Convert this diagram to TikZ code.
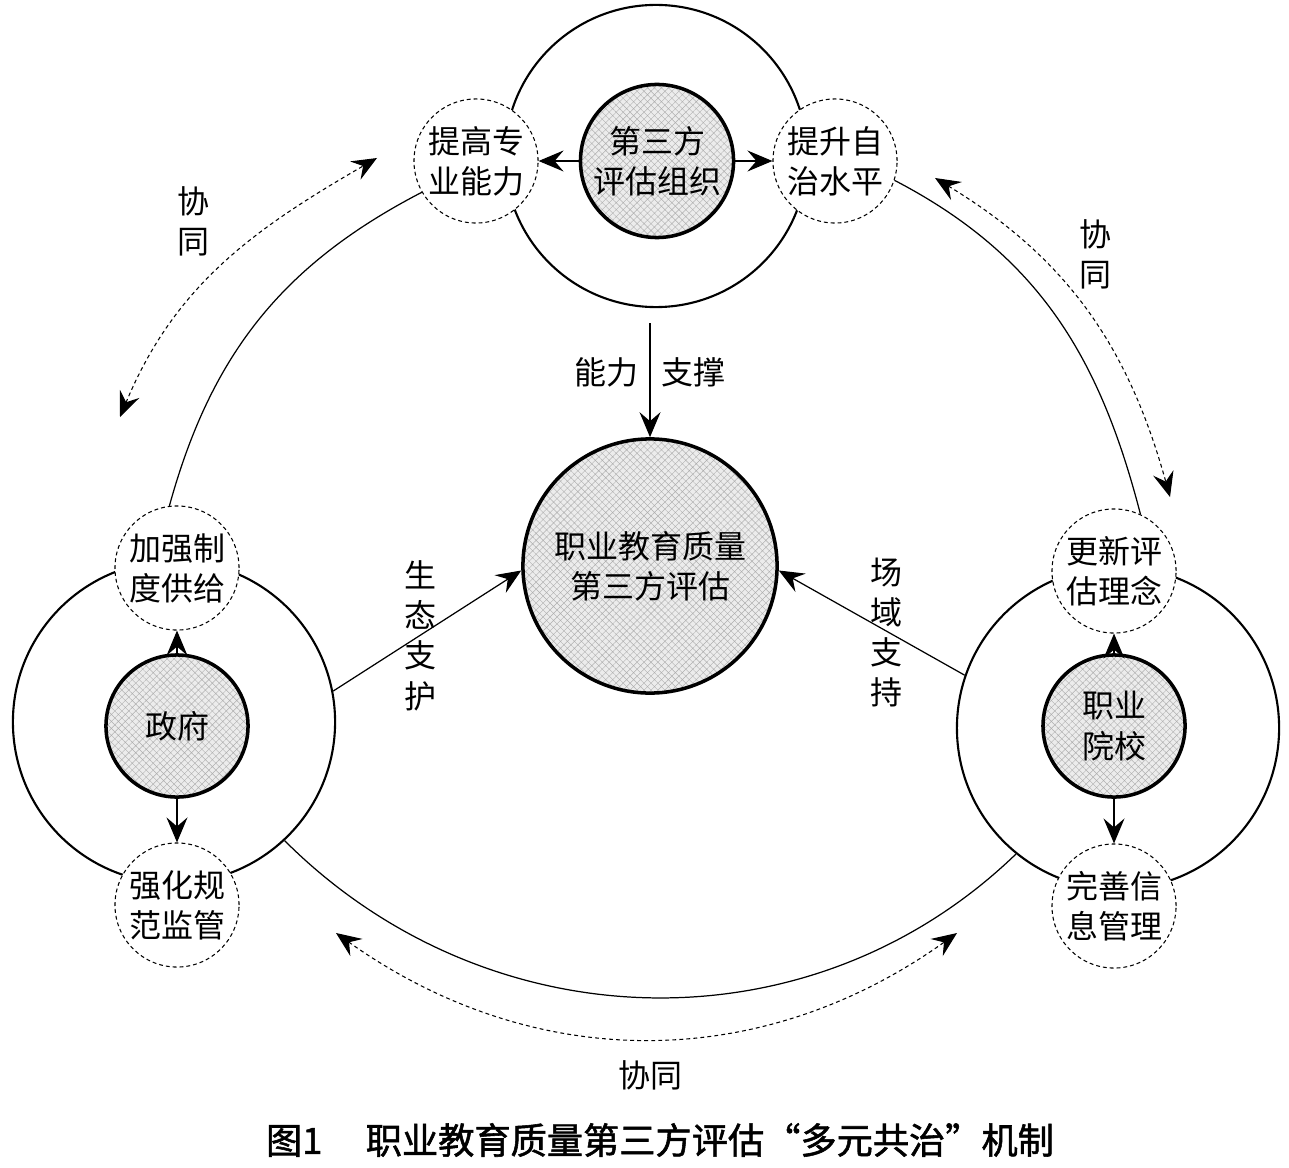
\documentclass[tikz,border=0pt]{standalone}
\usepackage{fontspec}
\setmainfont{Noto Sans CJK SC}
\newfontfamily\capfont{Noto Sans CJK SC}[FakeBold=1.5]
\usepackage{tikz}
\usetikzlibrary{arrows.meta,patterns.meta}
\definecolor{CoreGray}{RGB}{236,236,236}
\definecolor{HatchGray}{RGB}{175,175,175}
\tikzset{
  >={Stealth[length=2.5mm,width=2.1mm,inset=.9mm]},
  ring/.style={circle,draw,line width=.6pt,minimum size=#1,inner sep=0pt},
  actor/.style={circle,draw,line width=1pt,minimum size=#1,inner sep=0pt,align=center,
    preaction={fill=CoreGray},pattern={Hatch[angle=45,distance=1.4pt,line width=.12pt]},pattern color=HatchGray},
  goal/.style={circle,draw,dash pattern=on 1.1pt off .85pt,line width=.3pt,fill=white,
    minimum size=1.24cm,inner sep=0pt,align=center},
  tip/.style={->,line width=.35pt},
  coop/.style={<->,line width=.3pt,dash pattern=on 1.1pt off .9pt},
}
\begin{document}
\begin{tikzpicture}[x=.01cm,y=.01cm,font=\fontsize{9.1}{11.4}\selectfont]
\useasboundingbox (0,0) rectangle (1289,-1167);
\node[ring=3.02cm] (TopRing) at (656,-156) {};
\node[ring=3.22cm] (GovRing) at (174,-722) {};
\node[ring=3.22cm] (SchRing) at (1118,-728) {};

\node[goal] (Ability) at (476,-161) {提高专\\业能力};
\node[goal] (Autonomy) at (835,-161) {提升自\\治水平};
\node[goal] (Supply) at (177,-568) {加强制\\度供给};
\node[goal] (Supervise) at (177,-905) {强化规\\范监管};
\node[goal] (Concept) at (1114,-571) {更新评\\估理念};
\node[goal] (Info) at (1114,-906) {完善信\\息管理};

\node[actor=1.53cm] (Org) at (657,-161) {第三方\\评估组织};
\node[actor=2.54cm] (Core) at (650,-566) {职业教育质量\\第三方评估};
\node[actor=1.42cm] (Gov) at (177,-726) {政府};
\node[actor=1.42cm] (School) at (1114,-726) {职业\\院校};

\draw[tip] (Org) -- (Ability);
\draw[tip] (Org) -- (Autonomy);
\draw[tip] (Gov) -- (Supply);
\draw[tip] (Gov) -- (Supervise);
\draw[tip] (School) -- (Concept);
\draw[tip] (School) -- (Info);

\draw[tip,shorten <=1.5mm] (Core.north |- TopRing.south) -- (Core.north)
  node[midway] {能力\hspace{.23cm}支撑};
\draw[tip] (GovRing.11) -- (Core.182)
  node[midway,xshift=-.7mm,yshift=-.5mm,align=center] {生\\态\\支\\护};
\draw[tip] (SchRing.161) -- (Core.-2)
  node[midway,xshift=1.5mm,yshift=-1mm,align=center] {场\\域\\支\\持};

\draw[line width=.35pt] (Supply.97) to[out=74.6,in=207.4] (Ability.210);
\draw[line width=.35pt] (Autonomy.-18) to[out=-27.5,in=104.5] (Concept.65);
\draw[line width=.35pt] (GovRing.-47) to[out=-45,in=224] (SchRing.231);

\coordinate (coopL1) at (120,-417);
\coordinate (coopL2) at (377,-158);
\coordinate (coopR1) at (935,-178);
\coordinate (coopR2) at (1170,-497);
\coordinate (coopB1) at (336,-933);
\coordinate (coopB2) at (957,-933);
\draw[coop] (coopL1) to[out=67.4,in=210] (coopL2);
\draw[coop] (coopR1) to[out=-31.2,in=105.5] (coopR2);
\draw[coop] (coopB1) to[out=-35.4,in=-144.5] (coopB2);
\node[align=center] (coopLtext) at (193,-221) {协\\同};
\node[align=center] (coopRtext) at (1095,-254) {协\\同};
\node (coopBtext) at (650,-1075) {协同};

\node[font=\capfont\fontsize{10.3}{12}\selectfont] (caption) at (660,-1140)
  {图1\hspace{1.2em}职业教育质量第三方评估“多元共治”机制};
\end{tikzpicture}
\end{document}
